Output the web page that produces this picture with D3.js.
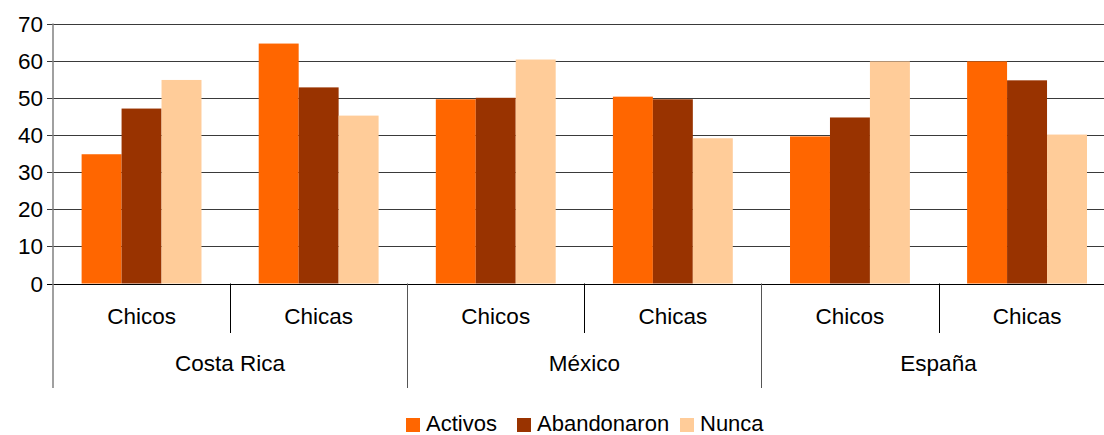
<!DOCTYPE html>
<html>
<head>
<meta charset="utf-8">
<script src="https://cdn.jsdelivr.net/npm/d3@7"></script>
<style>
  html, body { margin: 0; padding: 0; background: #fff; }
  svg { display: block; }
  text { font-family: "Liberation Sans", Arial, sans-serif; fill: #000; }
</style>
</head>
<body>
<svg id="chart" width="1104" height="435"></svg>
<script>
const countries = ["Costa Rica", "México", "España"];
const genders = ["Chicos", "Chicas"];
const seriesNames = ["Activos", "Abandonaron", "Nunca"];
const seriesColors = ["#FF6600", "#993300", "#FFCC99"];
const activos     = [34.8, 64.6, 49.6, 50.3, 39.6, 59.8];
const abandonaron = [47.1, 52.8, 50.0, 49.6, 44.7, 54.7];
const nunca       = [54.8, 45.2, 60.3, 39.1, 59.8, 40.1];
const yTicks = [0, 10, 20, 30, 40, 50, 60, 70];

const seriesValues = [activos, abandonaron, nunca];
const groups = [];
countries.forEach(c => genders.forEach(g => groups.push({country: c, gender: g, key: c + "|" + g})));

const svg = d3.select("#chart");
const mLeft = 53, mRight = 1115.6, mTop = 23.5, mBottom = 283.5;

const y = d3.scaleLinear().domain([0, 70]).range([mBottom, mTop]);
const x0 = d3.scaleBand().domain(groups.map(d => d.key)).range([mLeft, mRight]).padding(0);
const xc = d3.scaleBand().domain(countries).range([mLeft, mRight]).padding(0);
const gw = x0.bandwidth();
const x1 = d3.scaleBand().domain(seriesNames).range([0, gw]).paddingInner(0).paddingOuter(0.716);

// gridlines
svg.append("g").selectAll("line").data(yTicks).join("line")
  .attr("x1", mLeft - 6).attr("x2", 1104)
  .attr("y1", d => Math.round(y(d)) + 0.5).attr("y2", d => Math.round(y(d)) + 0.5)
  .attr("stroke", d => d === 0 ? "#000" : "#3a3a3a").attr("stroke-width", 1);

// bars
groups.forEach((g, gi) => {
  svg.append("g").selectAll("rect").data(seriesNames).join("rect")
    .attr("x", s => x0(g.key) + x1(s))
    .attr("width", x1.bandwidth())
    .attr("y", (s, si) => y(seriesValues[si][gi]))
    .attr("height", (s, si) => y(0) - y(seriesValues[si][gi]))
    .attr("fill", (s, si) => seriesColors[si]);
});

// y axis line
svg.append("line").attr("x1", mLeft).attr("x2", mLeft)
  .attr("y1", mTop).attr("y2", 388).attr("stroke", "#808080").attr("stroke-width", 1.5);

// y tick labels
svg.append("g").selectAll("text").data(yTicks).join("text")
  .attr("x", 43).attr("y", d => y(d) + 8)
  .attr("text-anchor", "end").style("font-size", "22.5px").text(d => d);

// inner category separators
const innerBounds = groups.map(d => x0(d.key)).slice(1).filter((d, i) => (i + 1) % 2 === 1);
svg.append("g").selectAll("line").data(innerBounds).join("line")
  .attr("x1", d => Math.round(d) + 0.5).attr("x2", d => Math.round(d) + 0.5)
  .attr("y1", mBottom).attr("y2", 333).attr("stroke", "#000").attr("stroke-width", 1);
// country separators
const outerBounds = countries.slice(1).map(c => xc(c));
svg.append("g").selectAll("line").data(outerBounds).join("line")
  .attr("x1", d => Math.round(d) + 0.5).attr("x2", d => Math.round(d) + 0.5)
  .attr("y1", mBottom).attr("y2", 388).attr("stroke", "#555").attr("stroke-width", 1);

// gender labels
svg.append("g").selectAll("text").data(groups).join("text")
  .attr("x", d => x0(d.key) + gw / 2).attr("y", 324)
  .attr("text-anchor", "middle").style("font-size", "22.5px").text(d => d.gender);

// country labels
svg.append("g").selectAll("text").data(countries).join("text")
  .attr("x", d => xc(d) + xc.bandwidth() / 2).attr("y", 371)
  .attr("text-anchor", "middle").style("font-size", "22.5px").text(d => d);

// legend
const legendX = [406, 517, 680];
const lg = svg.append("g");
seriesNames.forEach((s, i) => {
  lg.append("rect").attr("x", legendX[i]).attr("y", 418).attr("width", 14).attr("height", 14).attr("fill", seriesColors[i]);
  lg.append("text").attr("x", legendX[i] + 20).attr("y", 431).style("font-size", "22px").text(s);
});
</script>
</body>
</html>
